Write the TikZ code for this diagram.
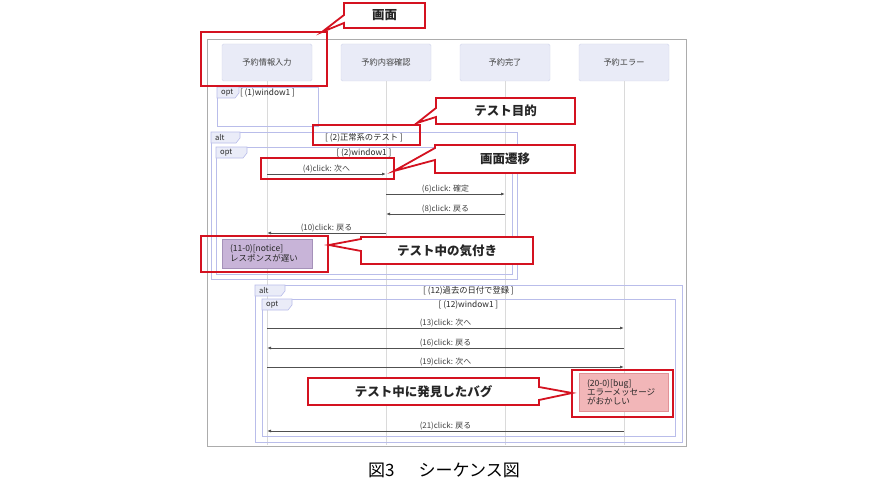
\documentclass[tikz,border=0pt]{standalone}
\usepackage{fontspec}
\setmainfont{Noto Sans CJK JP}
\usetikzlibrary{arrows.meta}
\definecolor{redc}{RGB}{212,18,32}
\definecolor{partfill}{RGB}{233,235,247}
\definecolor{partline}{RGB}{210,214,236}
\definecolor{fragc}{RGB}{185,189,234}
\definecolor{tabfill}{RGB}{234,236,248}
\definecolor{lifec}{RGB}{218,218,218}
\definecolor{msgc}{RGB}{80,80,80}
\definecolor{txtc}{RGB}{65,65,65}
\definecolor{hdrc}{RGB}{40,40,40}
\definecolor{noticefill}{RGB}{200,180,216}
\definecolor{noticeline}{RGB}{165,145,185}
\definecolor{bugfill}{RGB}{242,182,184}
\definecolor{bugline}{RGB}{226,145,150}
\definecolor{outerc}{RGB}{172,172,172}
\newcommand\fsz[1]{\fontsize{#1}{#1}\selectfont}
\newcommand\fragment[7]{%
  \draw[fragline] (#1,#2) rectangle (#3,#4);
  \filldraw[tabstyle] (#1,#2) -- ++(#7,0) -- ++(0,6) -- ++(-4,5) -- (#1,#2+11) -- cycle;
  \node[tabtext] at (#1+4,#2+5.5) {#5};
  \node[hdrtext] at ({(#1+#3)/2},#2+6) {#6};
}
\begin{document}
\begin{tikzpicture}[x=1pt,y=-1pt,
  part/.style={draw=partline, fill=partfill, rounded corners=1.5pt, minimum width=90pt, minimum height=37pt, inner sep=0pt, font=\fsz{8.2}, text=txtc},
  life/.style={draw=lifec, line width=0.8pt},
  fragline/.style={draw=fragc, line width=0.8pt},
  tabstyle/.style={draw=fragc, fill=tabfill, line width=0.6pt},
  tabtext/.style={anchor=west, font=\fsz{7.6}, text=hdrc, inner sep=0pt},
  hdrtext/.style={font=\fsz{8.3}, text=hdrc, inner sep=0pt},
  msg/.style={draw=msgc, line width=0.8pt, -{Latex[length=4pt,width=3pt]}},
  lbl/.style={above=1pt, font=\fsz{7.9}, text=txtc, inner sep=0pt},
  redbox/.style={draw=redc, line width=1.8pt},
  callout/.style={draw=redc, fill=white, line width=1.8pt, line join=miter},
  ctext/.style={font=\fsz{12.5}\bfseries, text=black!85, inner sep=0pt},
  notice/.style={draw=noticeline, fill=noticefill, line width=0.8pt, text width=74pt, inner xsep=8pt, inner ysep=0pt, minimum height=29pt, align=left, font=\fsz{8.5}, text=hdrc},
  bug/.style={draw=bugline, fill=bugfill, line width=0.8pt, text width=73pt, inner xsep=8pt, inner ysep=0pt, minimum height=38pt, align=left, font=\fsz{8.6}, text=hdrc}
]
\useasboundingbox[fill=white] (0,0) rectangle (890,500);

% outer frame
\draw[draw=outerc, line width=0.9pt] (207,39) rectangle (686,446);

% participants
\node[part] (p1) at (267,62.5) {予約情報入力};
\node[part] (p2) at (386,62.5) {予約内容確認};
\node[part] (p3) at (505,62.5) {予約完了};
\node[part] (p4) at (624,62.5) {予約エラー};

% lifelines
\coordinate (e1) at (267,445);
\coordinate (e2) at (386,445);
\coordinate (e3) at (505,445);
\coordinate (e4) at (624,445);
\draw[life] (p1.south) -- (e1);
\draw[life] (p2.south) -- (e2);
\draw[life] (p3.south) -- (e3);
\draw[life] (p4.south) -- (e4);

% fragments
\fragment{217}{87}{318}{126}{opt}{[ (1)window1 ]}{22}
\fragment{211}{132}{517}{279}{alt}{[ (2)正常系のテスト ]}{29}
\fragment{216}{147}{512}{274}{opt}{[ (2)window1 ]}{31}
\fragment{255}{285}{682}{442}{alt}{[ (12)過去の日付で登録 ]}{30}
\fragment{262}{299}{675}{436}{opt}{[ (12)window1 ]}{30}

% messages
\draw[msg] (p1 |- 0,174) -- node[lbl] (l4) {(4)click: 次へ} (p2 |- 0,174);
\draw[msg] (p2 |- 0,194) -- node[lbl] (l6) {(6)click: 確定} (p3 |- 0,194);
\draw[msg] (p3 |- 0,214) -- node[lbl] (l8) {(8)click: 戻る} (p2 |- 0,214);
\draw[msg] (p2 |- 0,233) -- node[lbl] (l10) {(10)click: 戻る} (p1 |- 0,233);
\draw[msg] (p1 |- 0,328) -- node[lbl] (l13) {(13)click: 次へ} (p4 |- 0,328);
\draw[msg] (p4 |- 0,348) -- node[lbl] (l16) {(16)click: 戻る} (p1 |- 0,348);
\draw[msg] (p1 |- 0,367) -- node[lbl] (l19) {(19)click: 次へ} (p4 |- 0,367);
\draw[msg] (p4 |- 0,431) -- node[lbl] (l21) {(21)click: 戻る} (p1 |- 0,431);

% notes
\node[notice] (n11) at (267,253.5) {(11-0)[notice]\\レスポンスが遅い};
\node[bug] (n20) at (623.5,392) {(20-0)[bug]\\エラーメッセージ\\がおかしい};

% red highlight boxes
\draw[redbox] (201,32) rectangle (327,86);
\draw[redbox] (313,125) rectangle (420,145);
\draw[redbox] (261,158) rectangle (394,179);
\draw[redbox] (201,236) rectangle (328,272);
\draw[redbox] (572,370) rectangle (673,417);

% callouts
\draw[callout] (344,3) -- (425,3) -- (425,28) -- (344,28) -- (344,23) -- (322,32) -- (344,15) -- cycle;
\node[ctext] (c1) at (384.5,15.5) {画面};
\draw[callout] (436,98) -- (575,98) -- (575,124) -- (436,124) -- (436,117) -- (417,123) -- (436,108) -- cycle;
\node[ctext] (c2) at (505.5,111) {テスト目的};
\draw[callout] (435,145) -- (575,145) -- (575,173) -- (435,173) -- (435,160) -- (394,171) -- (435,148) -- cycle;
\node[ctext] (c3) at (505,159) {画面遷移};
\draw[callout] (361,237) -- (533,237) -- (533,264) -- (361,264) -- (361,251) -- (329,245) -- (361,239) -- cycle;
\node[ctext] (c4) at (447,250.5) {テスト中の気付き};
\draw[callout] (308,378) -- (539,378) -- (539,387) -- (572,393) -- (539,400) -- (539,405) -- (308,405) -- cycle;
\node[ctext] (c5) at (423.5,391.5) {テスト中に発見したバグ};

% caption
\node[font=\fsz{17}, text=black, inner sep=0pt] (cap) at (444,470) {図3\hspace{24pt}シーケンス図};
\end{tikzpicture}
\end{document}
